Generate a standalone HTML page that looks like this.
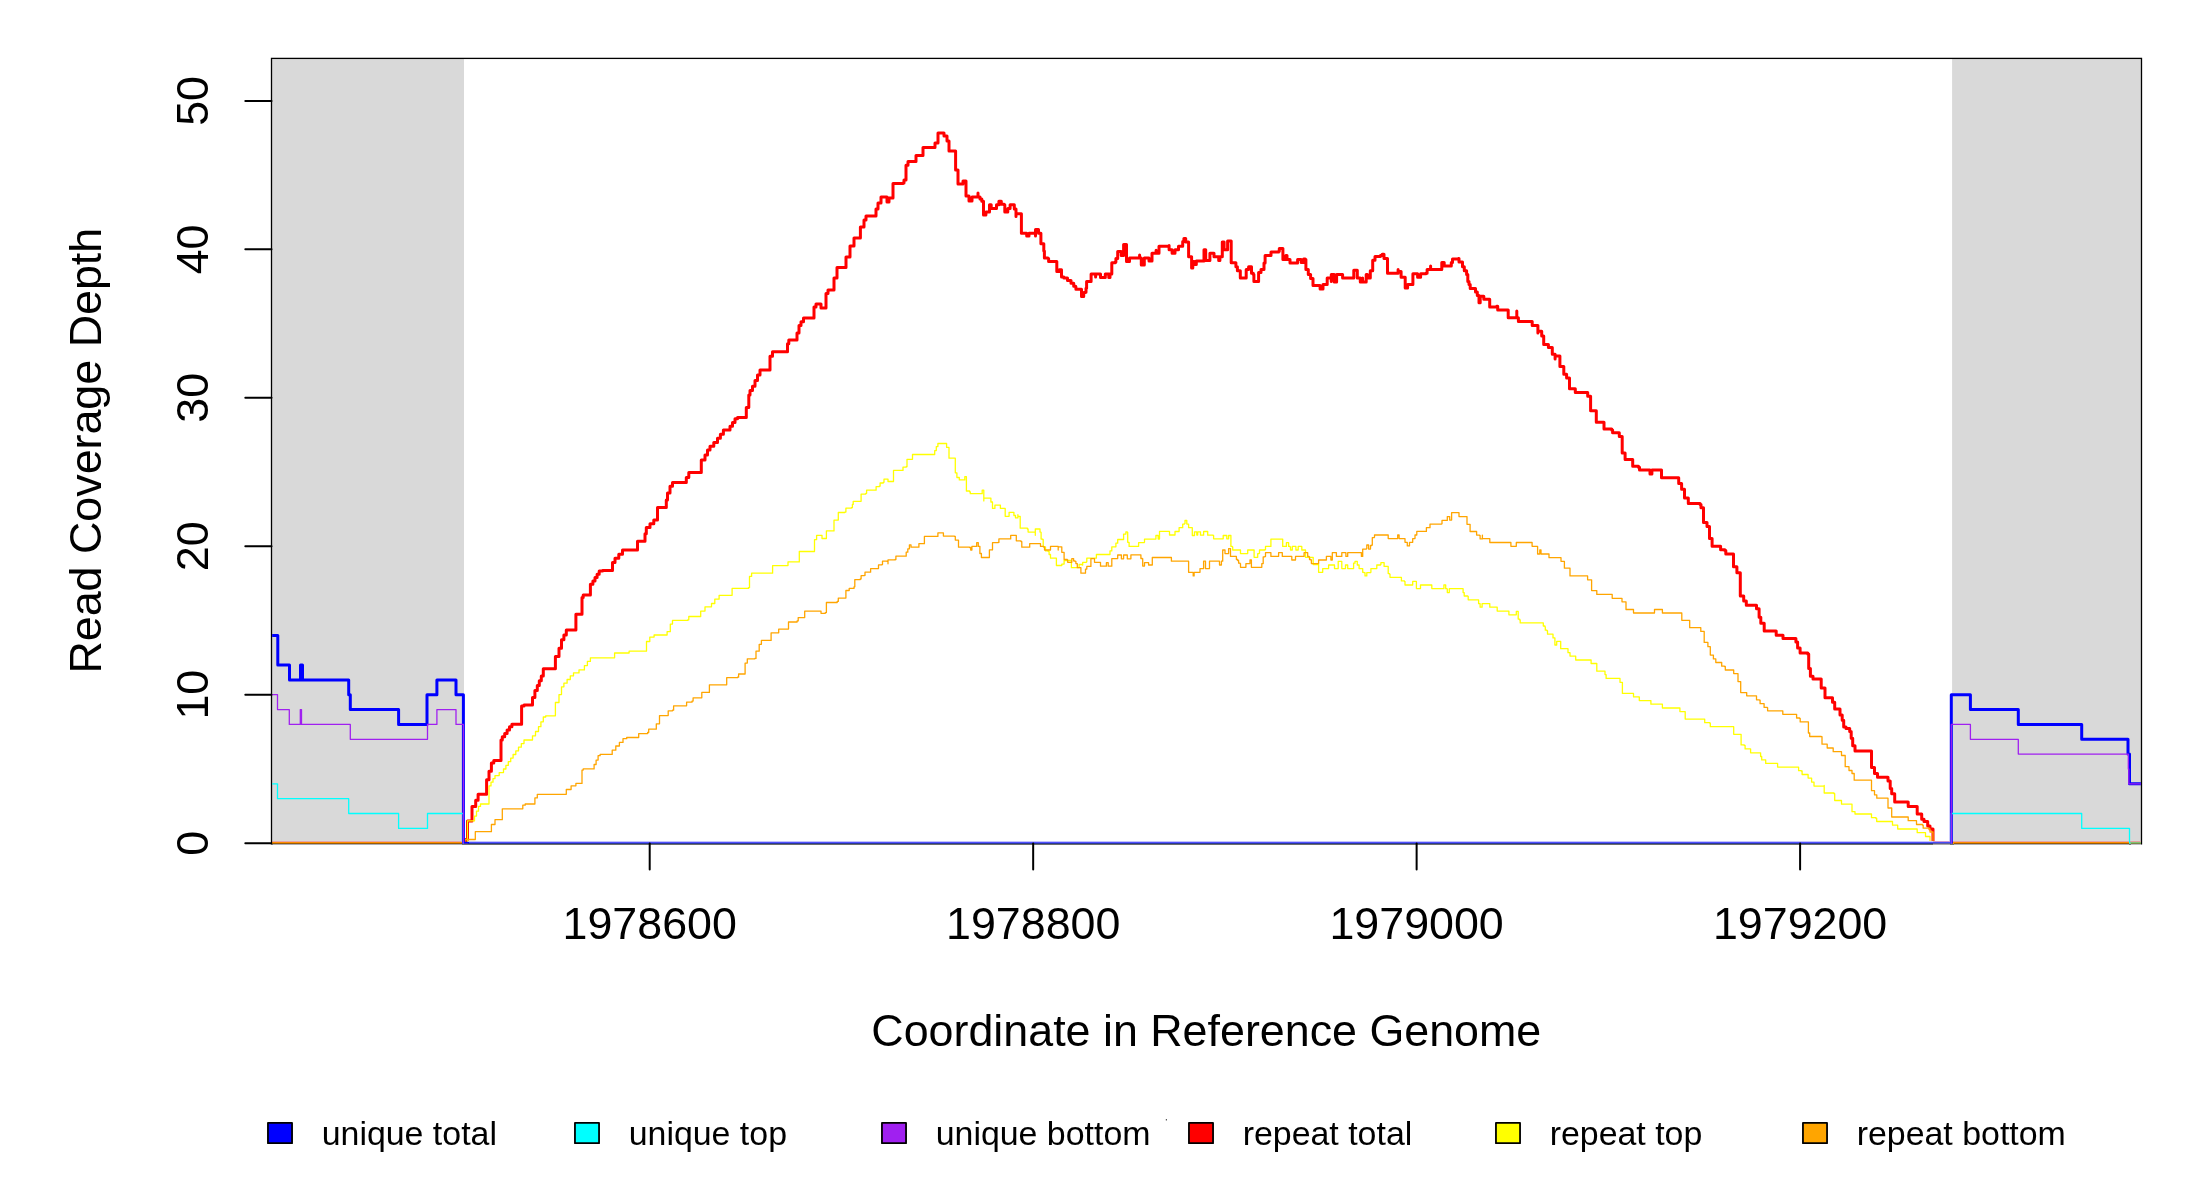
<!DOCTYPE html>
<html><head><meta charset="utf-8"><title>Read Coverage Depth</title>
<style>html,body{margin:0;padding:0;background:#fff;width:2200px;height:1200px;overflow:hidden;font-family:"Liberation Sans",sans-serif}svg{display:block;will-change:transform}</style>
</head><body><svg width="2200" height="1200" viewBox="0 0 2200 1200" font-family="Liberation Sans, sans-serif"><rect x="0" y="0" width="2200" height="1200" fill="#fff"/><rect x="271.5" y="58.4" width="192.5" height="784.8" fill="#d9d9d9"/><rect x="1952.1" y="58.4" width="189.4" height="784.8" fill="#d9d9d9"/><rect x="271.50" y="58.4" width="1870.00" height="785.50" fill="none" stroke="#000" stroke-width="1.3"/><defs><clipPath id="pc"><rect x="272.15" y="58.4" width="1868.70" height="785.40"/></clipPath></defs><g clip-path="url(#pc)"><path d="M271.5 843.2L465.5 843.2L465.5 839.5L467.5 839.5L467.5 820.9L472.0 820.9L472.0 806.4L475.7 806.4L475.7 800.3L478.1 800.3L478.1 794.3L480.5 794.3L486.6 794.3L486.6 779.8L489.0 779.8L489.0 771.3L491.4 771.3L491.4 762.9L493.8 762.9L493.8 760.5L501.0 760.5L501.0 740.0L502.3 740.0L502.3 736.7L504.7 736.7L504.7 733.4L507.1 733.4L507.1 730.0L509.5 730.0L509.5 726.7L511.9 726.7L511.9 724.3L521.6 724.3L521.6 706.1L524.0 706.1L524.0 704.9L532.5 704.9L532.5 697.6L534.9 697.6L534.9 690.4L537.3 690.4L537.3 685.6L539.3 685.6L539.3 680.7L541.3 680.7L541.3 675.9L543.3 675.9L543.3 668.7L545.7 668.7L555.4 668.7L555.4 656.6L559.0 656.6L559.0 648.2L561.5 648.2L561.5 639.7L563.9 639.7L563.9 634.9L566.3 634.9L566.3 630.0L568.7 630.0L574.7 630.0L575.9 630.0L575.9 615.6L575.9 614.3L582.0 614.3L582.0 597.4L583.2 597.4L583.2 595.0L590.4 595.0L590.4 584.2L592.9 584.2L592.9 580.9L595.0 580.9L595.0 577.5L597.1 577.5L597.1 574.2L599.2 574.2L599.2 570.9L601.3 570.9L602.5 570.9L602.5 570.5L612.5 570.5L612.5 562.5L615.0 562.5L615.0 558.3L618.8 558.3L618.8 554.2L622.5 554.2L622.5 550.0L626.3 550.0L637.5 550.0L637.5 541.3L640.0 541.3L645.0 541.3L645.0 533.8L646.3 533.8L646.3 527.5L650.0 527.5L650.0 523.8L653.8 523.8L653.8 520.0L657.5 520.0L657.5 507.5L661.3 507.5L666.3 507.5L666.3 500.0L667.5 500.0L667.5 493.1L670.0 493.1L670.0 486.3L672.5 486.3L672.5 482.5L686.3 482.5L686.3 477.5L688.8 477.5L688.8 472.5L691.3 472.5L701.3 472.5L701.3 471.3L701.3 460.0L705.0 460.0L705.0 455.0L707.5 455.0L707.5 450.0L710.0 450.0L710.0 446.2L713.8 446.2L713.8 442.5L717.5 442.5L717.5 438.3L720.4 438.3L720.4 434.2L723.4 434.2L723.4 430.0L726.3 430.0L730.0 430.0L730.0 426.3L732.5 426.3L732.5 422.5L735.0 422.5L735.0 418.8L737.5 418.8L737.5 417.5L746.3 417.5L746.3 407.5L748.8 407.5L748.8 395.0L750.0 395.0L750.0 390.6L752.5 390.6L752.5 386.3L755.0 386.3L755.0 380.6L757.5 380.6L757.5 375.0L760.0 375.0L760.0 370.0L770.0 370.0L770.0 356.3L772.5 356.3L772.5 351.8L778.8 351.8L787.5 351.8L787.5 351.3L787.5 343.8L788.8 343.8L788.8 340.0L797.0 340.0L797.0 333.0L799.0 333.0L799.0 325.6L801.0 325.6L801.0 321.8L803.5 321.8L803.5 318.0L806.0 318.0L814.0 318.0L814.0 307.0L816.0 307.0L816.0 304.0L821.0 304.0L821.0 308.0L823.0 308.0L826.0 308.0L826.0 297.0L826.0 293.5L828.0 293.5L828.0 290.0L830.0 290.0L833.0 290.0L834.0 290.0L834.0 282.0L834.0 278.0L837.0 278.0L837.0 267.4L845.0 267.4L846.0 267.4L846.0 260.0L846.0 257.0L850.0 257.0L850.0 246.0L853.0 246.0L854.0 246.0L854.0 238.0L860.0 238.0L860.4 238.0L860.4 227.0L864.0 227.0L864.0 226.0L864.0 220.0L866.0 220.0L866.0 216.0L870.0 216.0L876.0 216.0L876.0 215.0L876.0 209.0L878.0 209.0L878.0 203.0L881.0 203.0L881.0 197.0L883.0 197.0L887.0 197.0L887.0 202.0L889.0 202.0L889.0 198.0L892.0 198.0L893.0 198.0L893.0 191.0L893.0 183.6L895.0 183.6L903.0 183.6L903.0 183.0L904.0 183.0L904.0 180.0L906.0 180.0L906.0 179.0L906.0 169.0L906.0 165.3L908.0 165.3L908.0 161.6L910.0 161.6L916.0 161.6L916.0 155.6L918.0 155.6L923.0 155.6L923.0 155.0L923.0 147.6L926.0 147.6L935.0 147.6L935.0 143.0L937.0 143.0L938.0 143.0L938.0 136.0L938.0 133.0L940.0 133.0L943.0 133.0L944.0 133.0L944.0 136.0L947.0 136.0L947.0 137.0L947.0 141.0L948.6 141.0L949.0 141.0L949.0 151.0L955.0 151.0L955.6 151.0L955.6 163.0L955.6 170.0L958.0 170.0L958.0 184.0L960.0 184.0L963.0 184.0L963.0 181.0L965.0 181.0L966.0 181.0L966.0 196.0L969.0 196.0L969.0 201.0L971.0 201.0L972.0 201.0L972.0 197.0L977.0 197.0L978.0 197.0L978.0 193.0L978.0 197.0L980.0 197.0L980.0 198.9L981.8 198.9L981.8 201.3L983.5 201.3L983.5 214.9L985.3 214.9L985.9 214.9L985.9 211.9L988.9 211.9L989.5 211.9L989.5 204.8L990.6 204.8L991.2 204.8L991.2 208.4L996.5 208.4L996.5 204.8L997.7 204.8L998.9 204.8L998.9 201.3L1000.7 201.3L1001.3 201.3L1001.3 204.2L1004.2 204.2L1004.2 204.8L1004.8 204.8L1004.8 211.9L1007.8 211.9L1007.8 208.4L1009.0 208.4L1010.1 208.4L1010.1 204.8L1014.3 204.8L1014.3 209.0L1016.0 209.0L1016.0 216.6L1016.0 213.7L1017.8 213.7L1020.2 213.7L1021.4 213.7L1021.4 217.2L1021.4 233.2L1026.7 233.2L1026.7 236.1L1027.9 236.1L1029.0 236.1L1029.0 233.2L1034.4 233.2L1035.5 233.2L1035.5 236.1L1035.5 229.6L1036.7 229.6L1038.5 229.6L1038.5 233.2L1040.3 233.2L1040.9 233.2L1040.9 242.6L1040.9 243.8L1043.2 243.8L1043.8 243.8L1043.8 250.9L1044.4 250.9L1044.4 258.0L1048.0 258.0L1048.0 258.6L1048.6 258.6L1048.6 261.6L1056.2 261.6L1056.8 261.6L1056.8 268.6L1056.8 271.6L1059.2 271.6L1059.2 269.8L1061.5 269.8L1061.5 276.9L1063.9 276.9L1063.9 278.1L1067.5 278.1L1067.5 280.5L1071.0 280.5L1071.0 283.3L1073.5 283.3L1073.7 283.3L1073.7 286.3L1075.7 286.3L1075.7 286.7L1075.9 286.7L1075.9 289.3L1081.0 289.3L1081.5 289.3L1081.5 296.5L1083.3 296.5L1083.7 296.5L1083.7 292.5L1085.5 292.5L1085.5 292.3L1086.0 292.3L1086.0 288.3L1086.6 288.3L1086.6 281.5L1090.5 281.5L1090.5 281.6L1091.1 281.6L1091.1 274.0L1094.6 274.0L1095.6 274.0L1095.6 276.9L1095.6 274.0L1097.0 274.0L1100.0 274.0L1100.5 274.0L1100.5 277.5L1105.3 277.5L1105.3 274.0L1106.5 274.0L1108.8 274.0L1108.8 277.5L1110.0 277.5L1110.0 274.0L1111.2 274.0L1111.8 274.0L1111.8 262.7L1115.3 262.7L1115.3 262.1L1115.9 262.1L1115.9 258.6L1117.7 258.6L1117.7 258.0L1117.7 251.5L1121.2 251.5L1121.2 255.6L1122.4 255.6L1123.6 255.6L1123.6 247.4L1123.6 244.4L1126.0 244.4L1126.5 244.4L1126.5 258.0L1126.5 261.6L1129.5 261.6L1129.5 258.0L1130.7 258.0L1138.4 258.0L1139.6 258.0L1139.6 255.0L1139.6 258.0L1141.3 258.0L1141.3 265.1L1142.5 265.1L1144.3 265.1L1144.3 258.0L1145.5 258.0L1149.0 258.0L1149.0 261.0L1150.2 261.0L1152.0 261.0L1152.0 253.3L1154.9 253.3L1156.1 253.3L1156.1 250.3L1156.1 253.3L1158.5 253.3L1159.0 253.3L1159.0 246.2L1169.1 246.2L1169.1 245.6L1169.1 249.7L1170.9 249.7L1172.1 249.7L1172.1 253.3L1174.4 253.3L1175.0 253.3L1175.0 249.7L1178.5 249.7L1178.5 246.2L1179.7 246.2L1182.7 246.2L1182.7 245.6L1182.7 241.5L1183.9 241.5L1183.9 238.5L1185.7 238.5L1185.7 242.0L1188.0 242.0L1188.6 242.0L1188.6 256.8L1191.6 256.8L1191.6 257.4L1191.6 268.0L1192.8 268.0L1192.8 261.6L1194.5 261.6L1194.5 264.5L1196.3 264.5L1196.3 261.0L1198.1 261.0L1203.4 261.0L1204.0 261.0L1204.0 249.7L1205.7 249.7L1205.7 260.4L1206.9 260.4L1209.3 260.4L1209.9 260.4L1209.9 253.3L1213.4 253.3L1214.0 253.3L1214.0 256.8L1218.7 256.8L1218.7 260.4L1219.9 260.4L1219.9 256.8L1221.7 256.8L1222.3 256.8L1222.3 242.0L1224.1 242.0L1224.1 249.7L1225.8 249.7L1227.6 249.7L1227.6 240.9L1228.8 240.9L1230.6 240.9L1231.2 240.9L1231.2 258.6L1231.2 262.7L1232.9 262.7L1235.9 262.7L1235.9 263.3L1235.9 266.7L1237.4 266.7L1237.4 270.8L1239.7 270.8L1240.3 270.8L1240.3 277.9L1245.6 277.9L1246.2 277.9L1246.2 274.4L1246.2 269.6L1248.6 269.6L1248.6 266.7L1250.4 266.7L1251.5 266.7L1251.5 273.2L1253.3 273.2L1253.3 274.4L1253.9 274.4L1253.9 281.5L1257.5 281.5L1258.6 281.5L1258.6 275.5L1258.6 272.6L1261.0 272.6L1261.0 269.6L1263.4 269.6L1264.0 269.6L1264.0 263.1L1265.1 263.1L1265.1 255.5L1270.5 255.5L1271.0 255.5L1271.0 251.9L1278.7 251.9L1278.7 251.3L1279.3 251.3L1279.3 248.4L1282.9 248.4L1282.9 259.6L1285.8 259.6L1285.8 255.5L1287.0 255.5L1287.0 259.6L1289.4 259.6L1290.0 259.6L1290.0 263.1L1297.0 263.1L1297.6 263.1L1297.6 259.6L1301.2 259.6L1301.2 262.5L1302.4 262.5L1303.6 262.5L1303.6 259.0L1305.3 259.0L1305.3 259.6L1305.9 259.6L1305.9 266.1L1305.9 269.6L1308.3 269.6L1308.3 274.4L1310.6 274.4L1310.6 278.5L1313.0 278.5L1313.0 285.6L1318.9 285.6L1320.1 285.6L1320.1 289.1L1323.0 289.1L1323.0 285.6L1323.0 284.4L1326.6 284.4L1327.2 284.4L1327.2 281.5L1327.2 277.9L1328.4 277.9L1330.7 277.9L1331.3 277.9L1331.3 281.5L1331.3 274.4L1332.5 274.4L1334.3 274.4L1334.3 282.0L1336.6 282.0L1336.6 274.4L1337.8 274.4L1342.0 274.4L1342.6 274.4L1342.6 277.9L1353.2 277.9L1353.8 277.9L1353.8 274.4L1353.8 270.2L1355.6 270.2L1357.3 270.2L1357.3 271.4L1357.3 277.9L1360.3 277.9L1360.3 282.0L1361.5 282.0L1362.6 282.0L1362.6 277.9L1362.6 282.0L1366.2 282.0L1366.2 274.4L1367.4 274.4L1367.4 277.9L1370.3 277.9L1370.3 270.8L1372.7 270.8L1372.7 269.6L1372.7 263.1L1372.7 260.2L1375.0 260.2L1375.0 256.6L1376.8 256.6L1380.4 256.6L1380.4 255.5L1382.2 255.5L1382.2 254.3L1384.0 254.3L1384.0 255.5L1384.0 258.4L1386.3 258.4L1387.5 258.4L1387.5 259.0L1387.5 269.6L1387.5 273.2L1389.9 273.2L1396.9 273.2L1398.1 273.2L1398.1 269.6L1398.1 271.4L1399.9 271.4L1401.1 271.4L1401.1 274.4L1401.1 277.3L1402.3 277.3L1405.2 277.3L1405.2 284.4L1405.2 288.0L1407.6 288.0L1407.6 284.4L1409.3 284.4L1412.3 284.4L1412.9 284.4L1412.9 277.9L1412.9 273.8L1415.3 273.8L1416.4 273.8L1417.6 273.8L1417.6 277.3L1420.0 277.3L1420.6 277.3L1420.6 273.8L1425.9 273.8L1425.9 273.2L1427.1 273.2L1427.1 269.6L1429.4 269.6L1430.6 269.6L1430.6 266.1L1430.6 269.6L1431.8 269.6L1441.2 269.6L1441.8 269.6L1441.8 266.1L1441.8 262.5L1444.2 262.5L1444.2 266.1L1445.4 266.1L1451.3 266.1L1451.3 262.5L1452.5 262.5L1452.5 259.0L1453.7 259.0L1458.4 259.0L1458.4 258.4L1459.0 258.4L1459.0 262.0L1462.5 262.0L1462.5 262.5L1462.5 266.7L1464.3 266.7L1464.3 270.8L1466.6 270.8L1466.6 274.4L1467.8 274.4L1467.8 281.5L1469.0 281.5L1469.0 284.4L1470.2 284.4L1470.2 288.6L1475.5 288.6L1475.5 292.1L1477.3 292.1L1477.3 295.6L1479.0 295.6L1479.0 302.7L1480.2 302.7L1480.2 296.2L1481.4 296.2L1483.2 296.2L1483.8 296.2L1483.8 299.2L1489.1 299.2L1489.7 299.2L1489.7 306.9L1496.7 306.9L1496.7 306.3L1497.7 306.3L1497.7 310.1L1508.2 310.1L1508.2 317.8L1510.1 317.8L1515.9 317.8L1516.8 317.8L1516.8 311.1L1516.8 317.8L1518.4 317.8L1518.4 321.6L1519.7 321.6L1531.2 321.6L1532.2 321.6L1532.2 325.4L1536.9 325.4L1537.9 325.4L1537.9 333.1L1537.9 331.2L1541.7 331.2L1541.7 336.0L1543.7 336.0L1543.7 344.6L1547.5 344.6L1548.4 344.6L1548.4 347.5L1552.3 347.5L1552.3 348.4L1552.3 354.2L1555.1 354.2L1555.1 359.0L1555.1 356.1L1557.1 356.1L1559.9 356.1L1559.9 366.6L1563.8 366.6L1563.8 367.6L1563.8 374.3L1566.6 374.3L1566.6 378.1L1569.5 378.1L1569.5 388.7L1575.3 388.7L1575.3 389.6L1575.3 392.5L1586.8 392.5L1587.7 392.5L1587.7 396.3L1590.6 396.3L1590.6 406.9L1590.6 410.7L1593.5 410.7L1596.3 410.7L1596.3 411.7L1596.3 422.2L1604.0 422.2L1604.0 428.9L1605.9 428.9L1611.7 428.9L1611.7 429.9L1612.6 429.9L1612.6 432.7L1619.3 432.7L1619.3 436.6L1621.3 436.6L1622.2 436.6L1622.2 448.1L1622.2 452.9L1625.1 452.9L1625.1 459.6L1632.7 459.6L1632.7 466.3L1638.5 466.3L1638.5 467.2L1639.5 467.2L1639.5 470.1L1650.0 470.1L1650.0 473.9L1651.9 473.9L1651.9 470.1L1653.8 470.1L1661.5 470.1L1661.5 477.8L1678.7 477.8L1678.7 483.5L1681.6 483.5L1681.6 489.3L1684.5 489.3L1684.5 496.0L1684.5 497.9L1688.3 497.9L1688.3 503.6L1690.2 503.6L1699.8 503.6L1700.1 503.6L1700.1 504.4L1701.0 504.4L1701.0 507.8L1703.5 507.8L1703.5 522.4L1707.0 522.4L1707.0 523.2L1707.0 526.6L1709.5 526.6L1709.5 538.6L1712.1 538.6L1712.1 539.4L1712.1 546.3L1715.5 546.3L1720.6 546.3L1720.6 549.7L1722.4 549.7L1724.9 549.7L1724.9 550.6L1725.8 550.6L1725.8 554.0L1732.6 554.0L1733.5 554.0L1733.5 560.8L1733.5 566.8L1736.9 566.8L1736.9 572.8L1740.3 572.8L1740.3 590.7L1740.3 595.9L1743.7 595.9L1743.7 601.0L1746.3 601.0L1746.3 605.3L1749.7 605.3L1755.7 605.3L1756.5 605.3L1756.5 608.7L1759.1 608.7L1759.1 609.5L1759.1 617.2L1760.8 617.2L1760.8 623.2L1764.2 623.2L1764.2 630.9L1767.6 630.9L1776.2 630.9L1776.2 635.2L1777.9 635.2L1782.2 635.2L1783.0 635.2L1783.0 638.6L1795.9 638.6L1795.9 642.0L1797.6 642.0L1797.6 648.0L1800.1 648.0L1800.1 653.1L1801.8 653.1L1807.8 653.1L1807.8 654.0L1808.7 654.0L1808.7 660.8L1808.7 668.5L1810.4 668.5L1810.4 676.2L1812.9 676.2L1813.0 676.2L1813.0 679.0L1820.5 679.0L1821.2 679.0L1821.2 686.5L1821.2 688.0L1825.0 688.0L1825.0 697.8L1826.5 697.8L1832.5 697.8L1832.5 698.5L1832.5 702.3L1834.0 702.3L1834.7 702.3L1834.7 709.0L1840.0 709.0L1840.0 709.8L1840.0 715.0L1842.2 715.0L1842.2 720.3L1843.7 720.3L1843.7 727.0L1846.0 727.0L1846.0 728.5L1849.7 728.5L1849.7 731.5L1851.2 731.5L1851.2 738.3L1852.7 738.3L1852.7 745.8L1855.0 745.8L1855.0 751.0L1859.5 751.0L1870.7 751.0L1871.5 751.0L1871.5 765.2L1871.5 767.5L1874.5 767.5L1874.5 773.5L1877.5 773.5L1877.5 777.2L1879.0 777.2L1888.0 777.2L1888.0 781.0L1890.2 781.0L1890.2 788.5L1891.7 788.5L1891.7 793.7L1894.7 793.7L1894.7 802.0L1897.7 802.0L1908.2 802.0L1908.2 802.7L1908.2 806.5L1909.7 806.5L1916.5 806.5L1917.2 806.5L1917.2 814.0L1921.7 814.0L1921.7 814.7L1921.7 819.2L1924.0 819.2L1924.0 821.5L1927.7 821.5L1927.7 826.0L1930.0 826.0L1930.0 829.0L1932.2 829.0L1933.0 829.0L1933.0 840.2L1933.0 843.2L1934.5 843.2L2141.5 843.2" fill="none" stroke="#ff0000" stroke-width="3.00" stroke-linejoin="round" stroke-linecap="round"/><path d="M271.5 843.2L467.5 843.2L467.5 824.5L467.5 820.9L474.5 820.9L474.5 816.1L476.5 816.1L476.5 811.2L478.5 811.2L478.5 806.4L480.5 806.4L480.5 804.0L488.5 804.0L489.0 804.0L489.0 789.5L489.0 785.9L491.0 785.9L491.0 782.2L493.0 782.2L493.0 778.6L495.0 778.6L495.0 775.6L499.2 775.6L499.2 772.6L503.5 772.6L503.5 769.0L505.9 769.0L505.9 765.4L508.3 765.4L508.3 761.7L510.7 761.7L510.7 758.1L513.1 758.1L513.1 754.5L515.8 754.5L515.8 750.9L518.5 750.9L518.5 747.2L521.3 747.2L521.3 743.6L524.0 743.6L524.0 740.0L532.5 740.0L532.5 735.8L535.5 735.8L535.5 731.5L538.5 731.5L538.5 726.7L540.9 726.7L540.9 721.8L543.3 721.8L543.3 717.0L545.7 717.0L545.7 715.8L555.4 715.8L555.4 702.5L559.0 702.5L559.0 694.6L561.5 694.6L561.5 686.8L563.9 686.8L563.9 683.2L567.1 683.2L567.1 679.5L570.3 679.5L570.3 675.9L573.5 675.9L573.5 672.9L579.0 672.9L579.0 669.9L584.4 669.9L584.4 665.6L587.4 665.6L587.4 661.4L590.4 661.4L590.4 657.8L602.5 657.8L614.6 657.8L614.6 656.6L614.6 653.0L629.1 653.0L629.1 651.2L640.0 651.2L645.4 651.2L646.5 651.2L646.5 644.7L646.5 641.5L649.8 641.5L649.8 637.1L654.1 637.1L654.1 635.0L657.3 635.0L667.1 635.0L667.1 631.7L670.3 631.7L670.3 624.1L672.5 624.1L672.5 620.4L676.8 620.4L687.7 620.4L687.7 619.8L688.8 619.8L688.8 616.5L700.7 616.5L700.7 616.1L700.7 611.1L705.0 611.1L705.0 606.8L711.5 606.8L711.5 603.5L714.8 603.5L714.8 599.2L719.1 599.2L719.1 595.3L722.4 595.3L732.1 595.3L732.1 594.9L732.1 588.4L734.3 588.4L748.4 588.4L748.4 587.7L749.5 587.7L749.5 580.8L749.5 576.4L751.6 576.4L751.6 573.2L757.0 573.2L772.2 573.2L772.6 573.2L772.6 565.6L787.4 565.6L788.0 565.6L788.0 561.9L799.3 561.9L799.3 561.3L799.3 551.5L801.5 551.5L814.5 551.5L814.5 550.4L814.5 539.6L816.6 539.6L816.6 535.3L821.0 535.3L822.0 535.3L822.0 538.5L825.3 538.5L826.4 538.5L826.4 530.9L832.9 530.9L834.0 530.9L834.0 523.3L834.0 520.1L837.2 520.1L838.3 520.1L838.3 512.5L844.8 512.5L844.8 512.1L845.9 512.1L845.9 508.2L851.3 508.2L851.3 507.7L852.4 507.7L852.4 504.4L853.2 504.4L853.2 501.3L860.3 501.3L861.1 501.3L861.1 494.1L865.8 494.1L865.8 493.3L866.6 493.3L866.6 490.2L875.3 490.2L876.1 490.2L876.1 486.7L879.3 486.7L879.3 486.2L880.1 486.2L880.1 483.0L883.3 483.0L883.3 482.3L884.0 482.3L884.0 479.1L887.2 479.1L888.0 479.1L888.0 481.5L892.8 481.5L893.5 481.5L893.5 474.3L893.5 470.4L895.1 470.4L902.3 470.4L903.0 470.4L903.0 467.2L906.2 467.2L906.2 466.7L907.0 466.7L907.0 459.3L912.5 459.3L912.5 458.5L912.5 454.5L915.7 454.5L934.7 454.5L934.7 450.6L936.3 450.6L936.3 446.6L937.9 446.6L937.9 443.5L939.5 443.5L946.6 443.5L946.6 447.4L949.0 447.4L949.0 458.2L954.5 458.2L955.3 458.2L955.3 465.6L955.3 472.8L956.9 472.8L956.9 477.5L959.3 477.5L959.3 479.9L960.8 479.9L964.0 479.9L964.8 479.9L964.8 476.7L966.4 476.7L966.4 491.0L969.6 491.0L969.6 491.8L970.3 491.8L970.3 493.7L981.4 493.7L982.2 493.7L982.2 490.2L983.3 490.2L983.8 490.2L983.8 500.9L983.8 498.1L985.4 498.1L990.9 498.1L990.9 502.0L992.5 502.0L992.5 508.4L994.9 508.4L994.9 505.2L996.5 505.2L999.6 505.2L1000.4 505.2L1000.4 508.4L1004.4 508.4L1005.2 508.4L1005.2 516.3L1008.4 516.3L1009.1 516.3L1009.1 512.3L1013.9 512.3L1013.9 515.5L1015.5 515.5L1015.5 517.9L1017.1 517.9L1017.9 517.9L1017.9 514.7L1017.9 516.3L1020.2 516.3L1020.2 528.2L1021.8 528.2L1027.4 528.2L1027.4 529.0L1028.1 529.0L1028.1 532.1L1034.5 532.1L1035.3 532.1L1035.3 535.3L1035.3 529.0L1036.9 529.0L1039.2 529.0L1040.0 529.0L1040.0 532.1L1040.9 532.1L1040.9 532.3L1041.1 532.3L1041.1 539.1L1042.7 539.1L1042.7 539.5L1043.2 539.5L1043.2 545.5L1043.2 546.8L1044.5 546.8L1045.5 546.8L1045.5 550.9L1048.2 550.9L1048.2 551.4L1049.1 551.4L1049.1 554.5L1050.5 554.5L1050.5 555.0L1050.5 558.2L1056.4 558.2L1056.4 565.5L1061.8 565.5L1061.8 564.1L1064.1 564.1L1064.1 560.5L1070.9 560.5L1071.4 560.5L1071.4 567.7L1078.2 567.7L1079.1 567.7L1079.1 564.5L1082.3 564.5L1082.3 565.0L1082.7 565.0L1082.7 562.3L1086.4 562.3L1086.4 561.8L1086.8 561.8L1086.8 558.2L1095.5 558.2L1096.4 558.2L1096.4 554.5L1109.5 554.5L1110.0 554.5L1110.0 550.9L1111.8 550.9L1111.8 550.5L1111.8 546.8L1115.5 546.8L1115.9 546.8L1115.9 543.2L1117.3 543.2L1117.7 543.2L1117.7 539.5L1123.2 539.5L1123.6 539.5L1123.6 535.9L1123.6 534.1L1125.5 534.1L1125.9 534.1L1125.9 531.8L1127.3 531.8L1127.3 532.3L1127.7 532.3L1127.7 542.3L1129.1 542.3L1129.1 542.7L1129.1 546.4L1138.2 546.4L1138.6 546.4L1138.6 542.7L1144.1 542.7L1144.1 542.3L1144.5 542.3L1144.5 539.1L1155.5 539.1L1155.9 539.1L1155.9 535.5L1157.7 535.5L1158.2 535.5L1158.2 539.1L1159.5 539.1L1159.5 531.4L1169.1 531.4L1169.5 531.4L1169.5 535.0L1175.0 535.0L1175.0 531.5L1178.6 531.5L1179.1 531.5L1179.1 527.7L1182.3 527.7L1182.7 527.7L1182.7 524.1L1184.5 524.1L1184.5 523.6L1185.0 523.6L1185.0 520.5L1186.4 520.5L1186.8 520.5L1186.8 524.1L1188.2 524.1L1188.6 524.1L1188.6 527.7L1192.3 527.7L1192.3 535.5L1194.1 535.5L1194.5 535.5L1194.5 531.8L1196.4 531.8L1196.8 531.8L1196.8 535.0L1197.7 535.0L1197.7 531.8L1200.0 531.8L1200.5 531.8L1200.5 535.2L1203.6 535.2L1203.6 531.5L1207.3 531.5L1207.7 531.5L1207.7 535.2L1213.2 535.2L1213.2 535.5L1213.6 535.5L1213.6 538.8L1222.7 538.8L1223.2 538.8L1223.2 535.5L1225.9 535.5L1226.8 535.5L1226.8 538.8L1228.2 538.8L1228.6 538.8L1228.6 535.5L1230.5 535.5L1230.9 535.5L1230.9 546.4L1232.3 546.4L1232.3 546.8L1232.7 546.8L1232.7 550.0L1239.1 550.0L1240.0 550.0L1240.5 550.0L1240.5 553.6L1247.7 553.6L1247.7 550.0L1253.6 550.0L1254.1 550.0L1254.1 557.3L1257.3 557.3L1257.7 557.3L1257.7 553.6L1259.1 553.6L1259.1 553.2L1259.5 553.2L1259.5 550.0L1265.0 550.0L1265.0 549.5L1265.5 549.5L1265.5 546.4L1270.9 546.4L1270.9 539.1L1282.3 539.1L1282.7 539.1L1282.7 546.4L1285.9 546.4L1286.4 546.4L1286.4 542.7L1288.2 542.7L1288.6 542.7L1288.6 546.4L1290.0 546.4L1290.0 546.8L1290.5 546.8L1290.5 550.0L1292.3 550.0L1292.3 546.4L1295.5 546.4L1295.9 546.4L1295.9 550.0L1297.7 550.0L1298.2 550.0L1298.2 546.4L1301.4 546.4L1301.8 546.4L1301.8 550.0L1305.5 550.0L1305.5 550.5L1305.5 557.3L1313.2 557.3L1313.2 557.5L1313.2 564.5L1318.6 564.5L1318.6 572.3L1322.3 572.3L1322.7 572.3L1322.7 568.6L1328.2 568.6L1328.6 568.6L1328.6 565.0L1334.1 565.0L1334.5 565.0L1334.5 568.6L1337.7 568.6L1338.2 568.6L1338.2 561.4L1341.4 561.4L1341.8 561.4L1341.8 568.6L1345.0 568.6L1345.5 568.6L1345.5 565.0L1347.3 565.0L1347.7 565.0L1347.7 568.6L1353.2 568.6L1353.6 568.6L1353.6 565.0L1353.6 563.2L1355.0 563.2L1355.0 561.4L1356.4 561.4L1357.3 561.4L1357.3 563.2L1357.3 565.0L1358.6 565.0L1359.1 565.0L1359.1 568.6L1362.3 568.6L1362.7 568.6L1362.7 572.3L1364.1 572.3L1364.1 572.7L1365.0 572.7L1365.0 575.9L1366.4 575.9L1366.8 575.9L1366.8 572.7L1370.5 572.7L1370.5 572.3L1370.9 572.3L1370.9 568.6L1376.4 568.6L1376.8 568.6L1376.8 565.0L1380.5 565.0L1380.5 564.5L1380.9 564.5L1380.9 562.7L1383.6 562.7L1384.1 562.7L1384.1 566.4L1387.7 566.4L1388.2 566.4L1388.2 573.6L1389.5 573.6L1389.5 574.1L1390.0 574.1L1390.0 577.3L1400.9 577.3L1401.4 577.3L1401.4 580.9L1404.5 580.9L1404.5 581.4L1405.0 581.4L1405.0 585.0L1412.3 585.0L1412.7 585.0L1412.7 581.4L1415.9 581.4L1416.4 581.4L1416.4 588.6L1420.0 588.6L1420.5 588.6L1420.5 585.0L1431.4 585.0L1431.8 585.0L1431.8 588.6L1443.1 588.6L1443.1 588.7L1443.9 588.7L1443.9 584.9L1445.1 584.9L1445.7 584.9L1445.7 588.7L1447.0 588.7L1447.0 589.0L1447.3 589.0L1447.3 592.6L1448.8 592.6L1449.3 592.6L1449.3 588.7L1462.4 588.7L1463.1 588.7L1463.1 592.6L1464.2 592.6L1464.2 596.0L1467.8 596.0L1467.8 596.3L1468.2 596.3L1468.2 599.8L1477.8 599.8L1478.6 599.8L1478.6 603.7L1479.6 603.7L1480.1 603.7L1480.1 607.2L1481.6 607.2L1482.1 607.2L1482.1 603.7L1489.1 603.7L1489.8 603.7L1489.8 607.2L1496.6 607.2L1497.2 607.2L1497.2 611.1L1508.3 611.1L1508.9 611.1L1508.9 614.8L1515.6 614.8L1516.3 614.8L1516.3 611.4L1517.9 611.4L1518.2 611.4L1518.2 619.1L1519.7 619.1L1519.7 619.9L1520.2 619.9L1520.2 622.9L1542.5 622.9L1543.3 622.9L1543.3 626.0L1544.9 626.0L1544.9 626.8L1545.3 626.8L1545.3 630.2L1546.9 630.2L1546.9 630.7L1547.5 630.7L1547.5 634.2L1552.6 634.2L1553.0 634.2L1553.0 637.9L1554.6 637.9L1554.9 637.9L1554.9 645.0L1556.4 645.0L1556.7 645.0L1556.7 641.4L1560.3 641.4L1560.7 641.4L1560.7 648.7L1567.5 648.7L1568.0 648.7L1568.0 652.7L1569.5 652.7L1570.0 652.7L1570.0 656.1L1574.9 656.1L1575.7 656.1L1575.7 660.0L1590.7 660.0L1591.1 660.0L1591.1 663.5L1596.2 663.5L1596.8 663.5L1596.8 671.2L1604.2 671.2L1605.0 671.2L1605.0 674.6L1606.1 674.6L1606.1 678.4L1619.3 678.4L1620.0 678.4L1620.0 682.3L1621.6 682.3L1622.4 682.3L1622.4 689.5L1622.4 693.4L1624.0 693.4L1632.7 693.4L1633.5 693.4L1633.5 696.9L1638.7 696.9L1639.3 696.9L1639.3 700.6L1650.1 700.6L1650.9 700.6L1650.9 704.2L1662.0 704.2L1662.4 704.2L1662.4 708.0L1678.9 708.0L1679.9 708.0L1679.9 711.6L1684.9 711.6L1685.2 711.6L1685.2 719.1L1703.6 719.1L1704.7 719.1L1704.7 722.7L1709.9 722.7L1709.9 723.2L1710.3 723.2L1710.3 726.7L1732.7 726.7L1733.7 726.7L1733.7 730.6L1733.7 734.3L1735.3 734.3L1740.7 734.3L1741.1 734.3L1741.1 744.9L1744.3 744.9L1744.3 745.4L1745.1 745.4L1745.1 748.9L1749.8 748.9L1750.6 748.9L1750.6 752.8L1759.7 752.8L1760.6 752.8L1760.6 756.5L1761.7 756.5L1761.7 759.9L1764.9 759.9L1765.7 759.9L1765.7 763.4L1777.1 763.4L1777.6 763.4L1777.6 767.1L1797.7 767.1L1798.6 767.1L1798.6 770.7L1801.3 770.7L1801.3 771.0L1802.1 771.0L1802.1 774.5L1807.2 774.5L1808.1 774.5L1808.1 778.1L1811.6 778.1L1811.6 778.6L1811.6 782.1L1812.9 782.1L1814.0 782.1L1814.0 786.1L1824.2 786.1L1824.2 785.5L1824.2 793.0L1826.5 793.0L1834.0 793.0L1834.0 793.7L1834.7 793.7L1834.7 800.5L1841.5 800.5L1841.5 801.2L1841.5 804.2L1843.0 804.2L1851.2 804.2L1852.0 804.2L1852.0 808.0L1852.0 811.7L1855.0 811.7L1855.0 814.0L1859.5 814.0L1870.7 814.0L1871.5 814.0L1871.5 817.7L1876.0 817.7L1876.0 818.5L1876.7 818.5L1876.7 821.5L1891.7 821.5L1892.5 821.5L1892.5 825.2L1897.0 825.2L1897.7 825.2L1897.7 829.0L1916.5 829.0L1917.2 829.0L1917.2 832.7L1924.7 832.7L1925.5 832.7L1925.5 836.5L1930.0 836.5L1930.0 843.2L1931.5 843.2L2141.5 843.2" fill="none" stroke="#ffff00" stroke-width="1.30" stroke-linejoin="round" stroke-linecap="round"/><path d="M271.5 843.2L465.0 843.2L465.0 839.5L475.3 839.5L475.3 835.5L475.3 831.7L478.1 831.7L491.4 831.7L491.4 824.5L495.0 824.5L495.0 819.7L501.1 819.7L502.3 819.7L502.3 808.8L522.8 808.8L522.8 807.6L522.8 805.2L525.2 805.2L525.2 804.0L534.9 804.0L534.9 797.9L537.3 797.9L537.3 794.3L543.3 794.3L566.3 794.3L566.3 793.1L566.3 789.5L571.1 789.5L571.1 785.8L575.9 785.8L575.9 783.4L582.0 783.4L582.0 770.1L583.2 770.1L583.2 768.9L594.1 768.9L594.1 764.5L596.1 764.5L596.1 760.1L598.1 760.1L598.1 755.7L600.1 755.7L600.1 754.4L612.2 754.4L612.2 750.2L615.8 750.2L615.8 746.0L619.4 746.0L619.4 742.4L623.0 742.4L623.0 738.7L626.7 738.7L626.7 737.5L638.7 737.5L638.7 733.6L640.0 733.6L647.6 733.6L647.6 732.5L648.7 732.5L648.7 729.2L656.3 729.2L656.3 723.8L659.5 723.8L659.5 715.6L661.7 715.6L667.1 715.6L668.2 715.6L668.2 710.8L672.5 710.8L672.5 710.2L673.6 710.2L673.6 705.8L685.5 705.8L686.6 705.8L686.6 702.2L692.0 702.2L692.0 701.1L693.1 701.1L693.1 697.8L701.8 697.8L701.8 692.4L703.9 692.4L709.4 692.4L709.4 692.0L709.4 684.8L726.7 684.8L726.7 677.7L737.5 677.7L737.5 677.2L738.6 677.2L738.6 674.0L745.1 674.0L745.1 673.5L745.1 663.1L747.3 663.1L747.3 658.8L749.5 658.8L754.9 658.8L754.9 658.4L756.0 658.4L756.0 651.2L759.2 651.2L759.2 650.1L759.2 644.3L761.4 644.3L761.4 640.4L766.8 640.4L770.0 640.4L771.1 640.4L771.1 632.8L777.6 632.8L778.7 632.8L778.7 629.1L787.4 629.1L788.5 629.1L788.5 625.2L788.5 622.0L791.7 622.0L797.1 622.0L797.1 620.9L798.2 620.9L798.2 617.6L804.7 617.6L804.7 611.1L806.9 611.1L819.9 611.1L821.0 611.1L821.0 613.3L825.3 613.3L825.3 612.6L826.4 612.6L826.4 607.9L826.4 602.5L829.7 602.5L837.2 602.5L837.2 601.4L838.3 601.4L838.3 598.1L844.8 598.1L845.9 598.1L845.9 593.8L845.9 590.5L849.2 590.5L849.2 588.4L853.2 588.4L854.0 588.4L854.0 586.8L854.8 586.8L854.8 579.6L860.3 579.6L860.3 578.9L861.1 578.9L861.1 575.7L864.3 575.7L864.3 575.4L865.0 575.4L865.0 572.2L869.8 572.2L870.6 572.2L870.6 568.6L877.7 568.6L878.5 568.6L878.5 564.9L881.7 564.9L881.7 564.6L882.5 564.6L882.5 561.1L887.2 561.1L887.2 561.4L888.0 561.4L888.0 563.8L888.0 559.9L889.6 559.9L895.1 559.9L895.1 559.5L895.9 559.5L895.9 556.2L906.2 556.2L906.2 552.2L907.8 552.2L907.8 548.8L909.4 548.8L909.4 544.8L911.0 544.8L911.0 547.2L912.5 547.2L918.1 547.2L918.9 547.2L918.9 543.7L923.6 543.7L924.4 543.7L924.4 540.1L924.4 536.4L926.0 536.4L937.1 536.4L937.9 536.4L937.9 532.9L942.6 532.9L943.4 532.9L943.4 536.1L954.5 536.1L954.5 536.4L955.3 536.4L955.3 540.1L958.5 540.1L958.5 540.4L958.5 547.2L960.8 547.2L969.6 547.2L969.6 547.5L970.7 547.5L970.7 550.0L971.9 550.0L971.9 546.4L976.7 546.4L976.7 542.7L978.3 542.7L978.3 546.4L979.9 546.4L979.9 553.5L981.4 553.5L981.4 557.5L983.0 557.5L988.6 557.5L989.4 557.5L989.4 549.9L992.5 549.9L992.5 549.6L992.5 542.7L994.9 542.7L998.1 542.7L998.1 542.4L998.9 542.4L998.9 538.9L1009.9 538.9L1010.7 538.9L1010.7 535.3L1015.5 535.3L1016.3 535.3L1016.3 540.8L1021.0 540.8L1021.0 541.6L1021.8 541.6L1021.8 547.2L1028.9 547.2L1029.7 547.2L1029.7 543.7L1040.0 543.7L1040.5 543.7L1040.5 546.4L1043.6 546.4L1043.6 546.8L1044.5 546.8L1044.5 550.0L1050.0 550.0L1050.5 550.0L1050.5 546.4L1057.7 546.4L1058.2 546.4L1058.2 550.0L1058.2 546.8L1059.5 546.8L1061.8 546.8L1061.8 552.3L1063.6 552.3L1064.1 552.3L1064.1 559.5L1067.3 559.5L1067.3 560.0L1067.7 560.0L1067.7 562.3L1070.9 562.3L1071.8 562.3L1071.8 558.6L1073.2 558.6L1073.6 558.6L1073.6 560.9L1075.0 560.9L1075.0 561.4L1075.9 561.4L1075.9 563.6L1077.3 563.6L1077.3 564.5L1077.3 567.7L1079.1 567.7L1080.9 567.7L1080.9 568.6L1080.9 573.2L1085.0 573.2L1085.5 573.2L1085.5 570.5L1085.5 569.1L1086.8 569.1L1086.8 566.4L1090.5 566.4L1090.9 566.4L1090.9 558.6L1094.1 558.6L1094.5 558.6L1094.5 562.3L1100.0 562.3L1100.5 562.3L1100.5 566.2L1105.9 566.2L1106.4 566.2L1106.4 562.7L1107.7 562.7L1108.2 562.7L1108.2 566.2L1111.8 566.2L1111.8 558.6L1117.3 558.6L1117.7 558.6L1117.7 555.0L1120.9 555.0L1121.4 555.0L1121.4 558.8L1123.2 558.8L1123.6 558.8L1123.6 555.0L1126.8 555.0L1127.3 555.0L1127.3 558.8L1130.9 558.8L1130.9 554.8L1140.5 554.8L1140.9 554.8L1140.9 558.5L1142.3 558.5L1142.3 558.6L1142.7 558.6L1142.7 566.1L1144.4 566.1L1144.5 566.1L1144.5 562.7L1147.7 562.7L1148.6 562.7L1148.6 565.0L1151.8 565.0L1152.3 565.0L1152.3 557.5L1170.9 557.5L1171.4 557.5L1171.4 561.2L1188.2 561.2L1188.6 561.2L1188.6 572.3L1192.3 572.3L1193.2 572.3L1193.2 575.9L1194.1 575.9L1194.1 572.3L1199.5 572.3L1200.0 572.3L1200.0 568.6L1203.2 568.6L1203.6 568.6L1203.6 561.2L1205.0 561.2L1205.5 561.2L1205.5 568.6L1209.1 568.6L1209.5 568.6L1209.5 561.2L1219.1 561.2L1219.5 561.2L1219.5 565.0L1220.9 565.0L1221.4 565.0L1221.4 561.2L1222.7 561.2L1222.7 550.0L1224.5 550.0L1225.0 550.0L1225.0 553.6L1228.2 553.6L1228.6 553.6L1228.6 548.6L1230.0 548.6L1230.5 548.6L1230.5 556.4L1235.9 556.4L1236.4 556.4L1236.4 559.5L1237.7 559.5L1237.7 560.5L1238.6 560.5L1238.6 563.2L1240.0 563.2L1240.0 563.6L1240.5 563.6L1240.5 567.3L1245.9 567.3L1245.9 563.6L1249.5 563.6L1250.0 563.6L1250.0 560.0L1251.4 560.0L1251.4 567.3L1261.4 567.3L1261.8 567.3L1261.8 563.6L1263.2 563.6L1263.2 563.2L1263.2 556.8L1265.0 556.8L1265.0 556.4L1265.5 556.4L1265.5 552.7L1270.5 552.7L1270.9 552.7L1270.9 556.4L1278.6 556.4L1278.6 552.7L1282.3 552.7L1282.3 556.4L1291.8 556.4L1291.8 560.0L1295.5 560.0L1295.5 556.4L1303.6 556.4L1304.1 556.4L1304.1 552.7L1307.3 552.7L1307.7 552.7L1307.7 556.4L1309.1 556.4L1309.1 556.8L1309.5 556.8L1309.5 559.5L1310.9 559.5L1310.9 560.0L1311.4 560.0L1311.4 563.6L1318.2 563.6L1318.6 563.6L1318.6 560.0L1325.9 560.0L1326.4 560.0L1326.4 556.4L1330.5 556.4L1330.9 556.4L1330.9 560.0L1331.8 560.0L1332.3 560.0L1332.3 552.7L1335.9 552.7L1336.4 552.7L1336.4 556.4L1341.4 556.4L1341.8 556.4L1341.8 552.7L1345.5 552.7L1345.9 552.7L1345.9 556.4L1347.3 556.4L1347.7 556.4L1347.7 552.7L1360.9 552.7L1361.4 552.7L1361.4 556.4L1362.7 556.4L1362.7 549.1L1366.4 549.1L1366.4 548.6L1366.8 548.6L1366.8 545.0L1368.2 545.0L1368.6 545.0L1368.6 549.1L1370.0 549.1L1370.5 549.1L1370.5 545.5L1371.8 545.5L1371.8 545.0L1372.3 545.0L1372.3 537.7L1374.1 537.7L1374.1 537.3L1374.5 537.3L1374.5 535.0L1387.7 535.0L1388.2 535.0L1388.2 538.6L1397.3 538.6L1397.7 538.6L1397.7 535.0L1399.1 535.0L1399.1 538.6L1404.5 538.6L1405.0 538.6L1405.0 542.3L1406.8 542.3L1407.3 542.3L1407.3 545.9L1409.1 545.9L1409.5 545.9L1409.5 542.3L1412.3 542.3L1412.7 542.3L1412.7 538.6L1414.5 538.6L1415.0 538.6L1415.0 535.0L1416.4 535.0L1416.8 535.0L1416.8 531.4L1425.9 531.4L1426.4 531.4L1426.4 527.7L1429.5 527.7L1430.0 527.7L1430.0 524.1L1441.6 524.1L1441.6 523.8L1442.0 523.8L1442.0 520.4L1447.0 520.4L1447.3 520.4L1447.3 516.6L1449.3 516.6L1449.7 516.6L1449.7 520.1L1450.8 520.1L1451.6 520.1L1451.6 516.6L1451.6 512.7L1453.1 512.7L1458.1 512.7L1459.0 512.7L1459.0 516.6L1466.2 516.6L1467.0 516.6L1467.0 520.4L1467.0 524.3L1469.3 524.3L1470.1 524.3L1470.1 531.5L1475.9 531.5L1476.6 531.5L1476.6 535.1L1479.6 535.1L1479.6 535.4L1480.1 535.4L1480.1 538.9L1481.6 538.9L1482.4 538.9L1482.4 535.1L1482.4 538.6L1483.7 538.6L1489.4 538.6L1489.8 538.6L1489.8 542.5L1510.2 542.5L1510.9 542.5L1510.9 546.3L1516.0 546.3L1516.3 546.3L1516.3 542.5L1531.4 542.5L1532.1 542.5L1532.1 546.3L1537.2 546.3L1537.6 546.3L1537.6 554.0L1539.2 554.0L1539.8 554.0L1539.8 550.0L1540.7 550.0L1541.0 550.0L1541.0 554.0L1548.7 554.0L1549.0 554.0L1549.0 557.7L1560.3 557.7L1561.0 557.7L1561.0 561.3L1563.8 561.3L1564.4 561.3L1564.4 564.8L1564.4 568.2L1565.7 568.2L1569.5 568.2L1570.0 568.2L1570.0 575.9L1587.3 575.9L1587.6 575.9L1587.6 579.8L1591.1 579.8L1591.6 579.8L1591.6 586.7L1591.6 590.6L1593.1 590.6L1596.5 590.6L1596.8 590.6L1596.8 594.4L1611.9 594.4L1612.2 594.4L1612.2 598.3L1621.5 598.3L1622.0 598.3L1622.0 601.8L1625.5 601.8L1626.0 601.8L1626.0 609.5L1633.0 609.5L1633.5 609.5L1633.5 613.0L1654.0 613.0L1654.5 613.0L1654.5 609.5L1662.0 609.5L1662.4 609.5L1662.4 613.0L1681.0 613.0L1681.8 613.0L1681.8 616.6L1681.8 620.3L1683.3 620.3L1688.9 620.3L1689.7 620.3L1689.7 623.8L1689.7 627.7L1690.9 627.7L1700.0 627.7L1700.8 627.7L1700.8 631.4L1703.9 631.4L1704.2 631.4L1704.2 642.4L1707.9 642.4L1707.9 646.7L1709.9 646.7L1710.3 646.7L1710.3 655.1L1713.4 655.1L1713.4 655.4L1713.4 658.9L1715.0 658.9L1715.8 658.9L1715.8 662.5L1721.0 662.5L1721.7 662.5L1721.7 666.2L1724.5 666.2L1724.5 666.5L1725.3 666.5L1725.3 670.0L1732.7 670.0L1733.7 670.0L1733.7 673.6L1736.9 673.6L1738.0 673.6L1738.0 677.6L1738.0 681.6L1740.3 681.6L1740.7 681.6L1740.7 689.0L1740.7 692.6L1742.7 692.6L1746.4 692.6L1746.7 692.6L1746.7 695.8L1755.4 695.8L1756.5 695.8L1756.5 699.8L1759.4 699.8L1759.4 700.1L1760.1 700.1L1760.1 703.7L1763.3 703.7L1764.1 703.7L1764.1 707.4L1767.3 707.4L1767.3 707.7L1767.6 707.7L1767.6 710.8L1782.3 710.8L1782.8 710.8L1782.8 714.3L1795.8 714.3L1796.6 714.3L1796.6 718.0L1799.7 718.0L1799.7 718.4L1800.2 718.4L1800.2 721.9L1807.7 721.9L1808.4 721.9L1808.4 725.9L1808.4 733.0L1809.7 733.0L1809.7 736.5L1811.6 736.5L1821.2 736.5L1821.2 736.7L1822.0 736.7L1822.0 744.2L1826.5 744.2L1827.2 744.2L1827.2 748.0L1832.5 748.0L1833.2 748.0L1833.2 751.7L1840.7 751.7L1841.5 751.7L1841.5 755.5L1844.5 755.5L1845.2 755.5L1845.2 763.0L1845.2 766.7L1849.0 766.7L1849.0 770.5L1852.0 770.5L1852.0 773.5L1853.5 773.5L1854.2 773.5L1854.2 780.2L1870.7 780.2L1871.5 780.2L1871.5 790.7L1874.5 790.7L1874.5 791.5L1874.5 794.9L1876.8 794.9L1876.8 798.2L1879.0 798.2L1888.0 798.2L1888.0 799.0L1888.0 808.0L1891.7 808.0L1891.7 817.0L1895.5 817.0L1908.2 817.0L1908.2 820.7L1909.7 820.7L1916.5 820.7L1916.5 824.5L1918.0 824.5L1922.5 824.5L1922.5 825.2L1923.2 825.2L1923.2 828.2L1929.2 828.2L1929.2 829.0L1930.0 829.0L1930.0 832.0L1932.2 832.0L1933.0 832.0L1933.0 841.0L1933.0 843.2L1935.2 843.2L2141.5 843.2" fill="none" stroke="#ffa500" stroke-width="1.30" stroke-linejoin="round" stroke-linecap="round"/><path d="M271.5 635.4L277.8 635.4L277.8 665.0L289.5 665.0L289.5 679.9L300.5 679.9L300.5 665.0L302.5 665.0L302.5 679.9L348.7 679.9L348.7 694.7L350.3 694.7L350.3 709.6L398.6 709.6L398.6 724.4L427.0 724.4L427.0 694.7L436.9 694.7L436.9 679.9L456.0 679.9L456.0 694.7L463.4 694.7L463.4 843.2L1951.3 843.2L1951.3 694.7L1970.4 694.7L1970.4 709.6L2018.3 709.6L2018.3 724.4L2081.7 724.4L2081.7 739.3L2128.0 739.3L2128.0 754.1L2129.5 754.1L2129.5 783.8L2141.5 783.8L2141.5 783.8" fill="none" stroke="#0000ff" stroke-width="3.00" stroke-linejoin="round" stroke-linecap="round"/><path d="M271.5 783.8L277.5 783.8L277.5 798.7L348.7 798.7L348.7 813.5L398.6 813.5L398.6 828.4L427.5 828.4L427.5 813.5L463.4 813.5L463.4 843.2M1951.3 843.2L1951.3 843.2L1951.3 813.5L2081.7 813.5L2081.7 828.4L2129.5 828.4L2129.5 843.2L2141.5 843.2L2141.5 843.2" fill="none" stroke="#00ffff" stroke-width="1.30" stroke-linejoin="round" stroke-linecap="round"/><path d="M271.5 694.7L277.5 694.7L277.5 709.6L289.3 709.6L289.3 724.4L300.3 724.4L300.3 709.6L301.5 709.6L301.5 724.4L350.3 724.4L350.3 739.3L427.5 739.3L427.5 724.4L436.9 724.4L436.9 709.6L456.0 709.6L456.0 724.4L463.4 724.4L463.4 843.2M1951.3 843.2L1951.3 843.2L1951.3 724.4L1970.4 724.4L1970.4 739.3L2018.3 739.3L2018.3 754.1L2128.3 754.1L2128.3 769.0L2128.8 769.0L2128.8 783.8L2141.5 783.8L2141.5 783.8" fill="none" stroke="#a020f0" stroke-width="1.30" stroke-linejoin="round" stroke-linecap="round"/></g><rect x="273" y="841" width="189" height="1" fill="rgb(228,165,170)"/><rect x="273" y="842" width="189" height="1" fill="rgb(255,140,0)"/><rect x="273" y="843" width="189" height="1" fill="rgb(155,92,5)"/><rect x="273" y="844" width="189" height="1" fill="rgb(172,174,184)"/><rect x="469" y="841" width="1464" height="1" fill="rgb(195,195,250)"/><rect x="469" y="842" width="1464" height="1" fill="rgb(80,80,255)"/><rect x="469" y="843" width="1464" height="1" fill="rgb(40,55,150)"/><rect x="469" y="844" width="1464" height="1" fill="rgb(110,110,105)"/><rect x="1933" y="841" width="17" height="1" fill="rgb(205,150,210)"/><rect x="1933" y="842" width="17" height="1" fill="rgb(70,75,245)"/><rect x="1933" y="843" width="17" height="1" fill="rgb(95,90,160)"/><rect x="1933" y="844" width="17" height="1" fill="rgb(170,170,165)"/><rect x="1954" y="841" width="175" height="1" fill="rgb(228,165,170)"/><rect x="1954" y="842" width="175" height="1" fill="rgb(255,140,0)"/><rect x="1954" y="843" width="175" height="1" fill="rgb(155,92,5)"/><rect x="1954" y="844" width="175" height="1" fill="rgb(172,174,184)"/><rect x="2131" y="841" width="10" height="1" fill="rgb(230,160,160)"/><rect x="2131" y="842" width="10" height="1" fill="rgb(130,195,115)"/><rect x="2131" y="843" width="10" height="1" fill="rgb(120,140,70)"/><rect x="2131" y="844" width="10" height="1" fill="rgb(190,190,200)"/><line x1="245.3" y1="843.20" x2="271.50" y2="843.20" stroke="#000" stroke-width="2" stroke-linecap="round"/><text transform="translate(208.3 843.2) rotate(-90)" text-anchor="middle" font-size="44.8">0</text><line x1="245.3" y1="694.74" x2="271.50" y2="694.74" stroke="#000" stroke-width="2" stroke-linecap="round"/><text transform="translate(208.3 694.7) rotate(-90)" text-anchor="middle" font-size="44.8">10</text><line x1="245.3" y1="546.28" x2="271.50" y2="546.28" stroke="#000" stroke-width="2" stroke-linecap="round"/><text transform="translate(208.3 546.3) rotate(-90)" text-anchor="middle" font-size="44.8">20</text><line x1="245.3" y1="397.82" x2="271.50" y2="397.82" stroke="#000" stroke-width="2" stroke-linecap="round"/><text transform="translate(208.3 397.8) rotate(-90)" text-anchor="middle" font-size="44.8">30</text><line x1="245.3" y1="249.36" x2="271.50" y2="249.36" stroke="#000" stroke-width="2" stroke-linecap="round"/><text transform="translate(208.3 249.4) rotate(-90)" text-anchor="middle" font-size="44.8">40</text><line x1="245.3" y1="100.90" x2="271.50" y2="100.90" stroke="#000" stroke-width="2" stroke-linecap="round"/><text transform="translate(208.3 100.9) rotate(-90)" text-anchor="middle" font-size="44.8">50</text><line x1="649.70" y1="843.6" x2="649.70" y2="869.6" stroke="#000" stroke-width="2" stroke-linecap="round"/><text x="649.7" y="938.9" text-anchor="middle" font-size="44.8">1978600</text><line x1="1033.17" y1="843.6" x2="1033.17" y2="869.6" stroke="#000" stroke-width="2" stroke-linecap="round"/><text x="1033.2" y="938.9" text-anchor="middle" font-size="44.8">1978800</text><line x1="1416.63" y1="843.6" x2="1416.63" y2="869.6" stroke="#000" stroke-width="2" stroke-linecap="round"/><text x="1416.6" y="938.9" text-anchor="middle" font-size="44.8">1979000</text><line x1="1800.10" y1="843.6" x2="1800.10" y2="869.6" stroke="#000" stroke-width="2" stroke-linecap="round"/><text x="1800.1" y="938.9" text-anchor="middle" font-size="44.8">1979200</text><text x="1206.3" y="1045.8" text-anchor="middle" font-size="44.8">Coordinate in Reference Genome</text><text transform="translate(101.0 450.7) rotate(-90)" text-anchor="middle" font-size="44.8">Read Coverage Depth</text><rect x="267.95" y="1122.95" width="24.1" height="20.2" fill="#0000ff" stroke="#000" stroke-width="1.8" stroke-linejoin="round"/><text x="321.7" y="1144.9" text-anchor="start" font-size="33.9">unique total</text><rect x="574.95" y="1122.95" width="24.1" height="20.2" fill="#00ffff" stroke="#000" stroke-width="1.8" stroke-linejoin="round"/><text x="628.7" y="1144.9" text-anchor="start" font-size="33.9">unique top</text><rect x="881.95" y="1122.95" width="24.1" height="20.2" fill="#a020f0" stroke="#000" stroke-width="1.8" stroke-linejoin="round"/><text x="935.7" y="1144.9" text-anchor="start" font-size="33.9">unique bottom</text><rect x="1188.95" y="1122.95" width="24.1" height="20.2" fill="#ff0000" stroke="#000" stroke-width="1.8" stroke-linejoin="round"/><text x="1242.7" y="1144.9" text-anchor="start" font-size="33.9">repeat total</text><rect x="1495.95" y="1122.95" width="24.1" height="20.2" fill="#ffff00" stroke="#000" stroke-width="1.8" stroke-linejoin="round"/><text x="1549.7" y="1144.9" text-anchor="start" font-size="33.9">repeat top</text><rect x="1802.95" y="1122.95" width="24.1" height="20.2" fill="#ffa500" stroke="#000" stroke-width="1.8" stroke-linejoin="round"/><text x="1856.7" y="1144.9" text-anchor="start" font-size="33.9">repeat bottom</text><rect x="1165.8" y="1119.2" width="1.2" height="1.2" fill="#333"/></svg></body></html>
